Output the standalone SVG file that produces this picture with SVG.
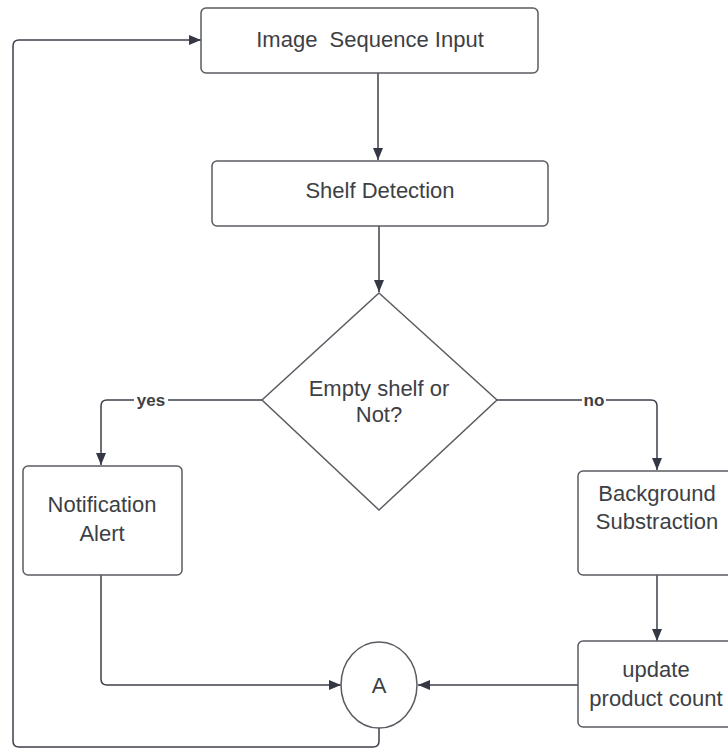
<svg xmlns="http://www.w3.org/2000/svg" width="728" height="751" viewBox="0 0 728 751">
<style>
.box{fill:#fff;stroke:#595c63;stroke-width:1.5}
.ln{fill:none;stroke:#3c404a;stroke-width:1.5}
.t{font-family:"Liberation Sans",Arial,sans-serif;font-size:22px;fill:#3d3f45;text-anchor:middle}
.lbl{font-family:"Liberation Sans",Arial,sans-serif;font-size:17px;font-weight:bold;fill:#3d3f45;text-anchor:middle}
</style>
<defs>
<marker id="ah" viewBox="0 0 12 10" refX="12" refY="5" markerWidth="12" markerHeight="10" markerUnits="userSpaceOnUse" orient="auto">
<path d="M0,0 L12,5 L0,10 Z" fill="#333844"/>
</marker>
</defs>
<rect width="728" height="751" fill="#fff"/>
<g id="connectors">
<path class="ln" d="M378,73 V160" marker-end="url(#ah)"/>
<path class="ln" d="M379,226 V292" marker-end="url(#ah)"/>
<path class="ln" d="M262,400 H107 Q101,400 101,406 V465" marker-end="url(#ah)"/>
<path class="ln" d="M497,400 H651 Q657,400 657,406 V470" marker-end="url(#ah)"/>
<path class="ln" d="M657,575 V641" marker-end="url(#ah)"/>
<path class="ln" d="M101,575 V679 Q101,685 107,685 H341" marker-end="url(#ah)"/>
<path class="ln" d="M578,685 H418" marker-end="url(#ah)"/>
<path class="ln" d="M379,728 V741 Q379,747 373,747 H19 Q13,747 13,741 V46 Q13,40 19,40 H201" marker-end="url(#ah)"/>
<rect x="134" y="391" width="34" height="18" fill="#fff"/>
<text class="lbl" x="151" y="406">yes</text>
<rect x="582" y="391" width="24" height="18" fill="#fff"/>
<text class="lbl" x="594" y="406">no</text>
</g>
<g id="image-sequence-input">
<rect class="box" x="201" y="8" width="337" height="65" rx="5"/>
<text class="t" x="370" y="47" xml:space="preserve">Image  Sequence Input</text>
</g>
<g id="shelf-detection">
<rect class="box" x="212" y="161" width="336" height="65" rx="5"/>
<text class="t" x="380" y="198">Shelf Detection</text>
</g>
<g id="decision">
<polygon class="box" points="379,293 497,400 379,510 262,400"/>
<text class="t" x="379" y="396">Empty shelf or</text>
<text class="t" x="379" y="422">Not?</text>
</g>
<g id="notification-alert">
<rect class="box" x="23" y="466" width="159" height="109" rx="5"/>
<text class="t" x="102" y="512">Notification</text>
<text class="t" x="102" y="541">Alert</text>
</g>
<g id="background-substraction">
<rect class="box" x="578" y="471" width="160" height="104" rx="5"/>
<text class="t" x="657" y="501">Background</text>
<text class="t" x="657" y="529">Substraction</text>
</g>
<g id="update-product-count">
<rect class="box" x="578" y="641" width="160" height="86" rx="5"/>
<text class="t" x="656" y="677">update</text>
<text class="t" x="656" y="706">product count</text>
</g>
<g id="connector-a">
<ellipse class="box" cx="379" cy="685" rx="38" ry="43"/>
<text class="t" x="379" y="693">A</text>
</g>
</svg>
